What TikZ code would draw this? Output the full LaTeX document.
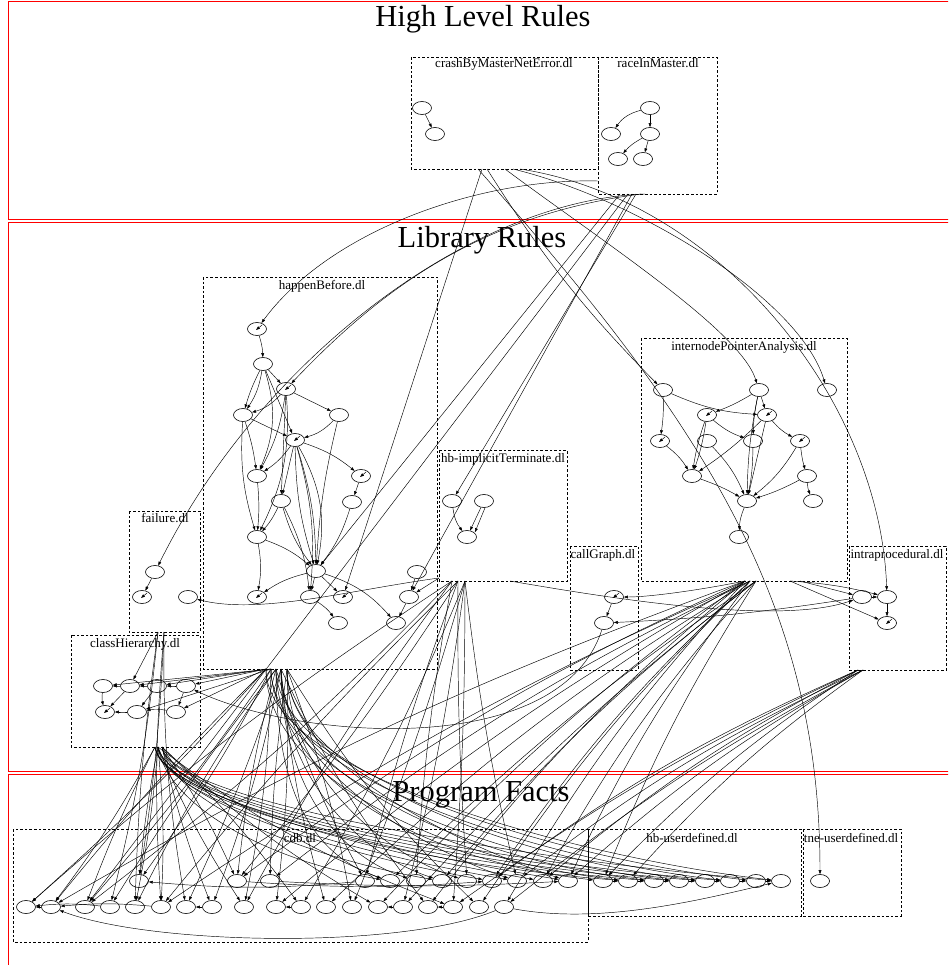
\documentclass[tikz,border=0pt]{standalone}
\usepackage{fontspec}
\setmainfont{Liberation Serif}
\usetikzlibrary{arrows.meta,shapes.geometric}
\begin{document}
\begin{tikzpicture}[x=1pt,y=-1pt,
  st/.style={draw,ellipse,minimum width=19pt,minimum height=13pt,inner sep=0pt,line width=0.6pt},
  ed/.style={line width=0.45pt,-{Triangle[length=4pt,width=2.8pt]}},
  clus/.style={draw,dash pattern=on 2.6pt off 2pt,line width=0.7pt},
  sect/.style={draw=red,line width=0.8pt},
  clab/.style={anchor=base,inner sep=0pt,font=\fontsize{13}{13}\selectfont},
  ttl/.style={anchor=base,inner sep=0pt,font=\fontsize{30.5}{30.5}\selectfont},
  selfarrow/.style={line width=0.45pt,-{Triangle[length=4pt,width=2.8pt]}}]
\useasboundingbox (0,0) rectangle (948,965);
\clip (0,0) rectangle (948,965);

% ---------- sections ----------
\draw[sect] (8,1.5) rectangle (960,219);
\draw[sect] (8,222) rectangle (960,771);
\draw[sect] (8,774.5) rectangle (960,990);
\node[ttl] (tHigh) at (483,27) {High Level Rules};
\node[ttl] (tLib) at (482,248) {Library Rules};
\node[ttl] (tProg) at (481,801) {Program Facts};

% ---------- clusters ----------
\draw[clus] (411,57) rectangle (598,169);
\node[clab] (lCrash) at (504,68) {crashByMasterNetError.dl};
\draw[clus] (598,57) rectangle (717,194);
\node[clab] (lRace) at (658,68) {raceInMaster.dl};

\draw[clus] (203,277) rectangle (437,669);
\node[clab] (lHB) at (322,289) {happenBefore.dl};
\draw[clus] (129,511) rectangle (200,632);
\node[clab] (lFail) at (165,522) {failure.dl};
\draw[clus] (71,635) rectangle (200,747);
\node[clab] (lClass) at (135,647) {classHierarchy.dl};
\draw[clus] (439,450) rectangle (567,581);
\node[clab] (lImpl) at (503,462) {hb-implicitTerminate.dl};
\draw[clus] (570,546) rectangle (638,670);
\node[clab] (lCall) at (603,558) {callGraph.dl};
\draw[clus] (641,338) rectangle (847,581);
\node[clab] (lInter) at (744,350) {internodePointerAnalysis.dl};
\draw[clus] (849,546) rectangle (946,670);
\node[clab] (lIntra) at (897,558) {intraprocedural.dl};

\draw[clus] (13,829) rectangle (588,942);
\node[clab] (lCdb) at (300,842) {cdb.dl};
\draw[clus] (588,829) rectangle (801,916);
\node[clab] (lHbu) at (692,842) {hb-userdefined.dl};
\draw[clus] (803,829) rectangle (901,916);
\node[clab] (lTne) at (851,842) {tne-userdefined.dl};

% ---------- high level nodes ----------
\node[st] (cr1) at (422,108) {};
\node[st] (cr2) at (435,134) {};
\node[st] (ra1) at (650,108) {};
\node[st] (ra2) at (611,134) {};
\node[st] (ra3) at (650,134) {};
\node[st] (ra4) at (618,159) {};
\node[st] (ra5) at (643,159) {};

% ---------- happenBefore ----------
\node[st] (hb1) at (257,329) {};
\node[st] (hb2) at (263,364) {};
\node[st] (hb3) at (286,389) {};
\node[st] (hb4) at (243,415) {};
\node[st] (hb5) at (339,415) {};
\node[st] (hb6) at (295,440) {};
\node[st] (hb7) at (257,476) {};
\node[st] (hb8) at (361,476) {};
\node[st] (hb9) at (281,501) {};
\node[st] (hb10) at (352,502) {};
\node[st] (hb11) at (257,537) {};
\node[st] (hb12) at (316,571) {};
\node[st] (hb13) at (417,572) {};
\node[st] (hb14) at (257,597) {};
\node[st] (hb15) at (310,597) {};
\node[st] (hb16) at (343,597) {};
\node[st] (hb17) at (409,597) {};
\node[st] (hb18) at (338,623) {};
\node[st] (hb19) at (396,623) {};

% ---------- failure / classHierarchy ----------
\node[st] (f1) at (155,572) {};
\node[st] (f2) at (142,597) {};
\node[st] (f3) at (188,597) {};
\node[st] (c1) at (103,686) {};
\node[st] (c2) at (130,686) {};
\node[st] (c3) at (157,686) {};
\node[st] (c4) at (186,686) {};
\node[st] (c5) at (105,712) {};
\node[st] (c6) at (137,712) {};
\node[st] (c7) at (176,712) {};

% ---------- hb-implicitTerminate / callGraph / intraprocedural ----------
\node[st] (t1) at (452,501) {};
\node[st] (t2) at (484,501) {};
\node[st] (t3) at (467,537) {};
\node[st] (g1) at (614,597) {};
\node[st] (g2) at (604,623) {};
\node[st] (p1) at (862,597) {};
\node[st] (p2) at (887,597) {};
\node[st] (p3) at (887,623) {};

% ---------- internodePointerAnalysis ----------
\node[st] (i1) at (663,390) {};
\node[st] (i2) at (759,390) {};
\node[st] (i3) at (827,390) {};
\node[st] (i4) at (707,415) {};
\node[st] (i5) at (767,415) {};
\node[st] (i6) at (660,441) {};
\node[st] (i7) at (707,441) {};
\node[st] (i8) at (753,441) {};
\node[st] (i9) at (800,441) {};
\node[st] (i10) at (692,476) {};
\node[st] (i11) at (807,476) {};
\node[st] (i12) at (747,501) {};
\node[st] (i13) at (813,501) {};
\node[st] (i14) at (739,537) {};

% ---------- program facts ----------
\foreach \i/\x in {1/139,2/237,3/270,4/365,5/390,6/416,7/442,8/467,9/492,10/517,11/543,12/568}
  \node[st] (U\i) at (\x,881) {};
\foreach \i/\x in {1/603,2/628,3/654,4/679,5/705,6/730,7/756,8/781}
  \node[st] (H\i) at (\x,881) {};
\node[st] (T1) at (820,881) {};
\foreach \i/\x in {1/26,2/51,3/85,4/110,5/135,6/161,7/186,8/212,9/244,10/276,11/301,12/326,13/352,14/378,15/403,16/428,17/453,18/479,19/504}
  \node[st] (L\i) at (\x,907) {};

% ---------- cluster ports ----------
\coordinate (cA) at (478,169);
\coordinate (cA2) at (482,169);
\coordinate (cB) at (487,169);
\coordinate (cC) at (505,169);
\coordinate (cD) at (513,169);
\coordinate (cE) at (520,169);
\coordinate (rL) at (598,181);
\coordinate (rA) at (645,194);
\coordinate (rB) at (641,194);
\coordinate (rC) at (636,194);
\coordinate (rD) at (632,194);
\coordinate (rE) at (628,194);
\coordinate (rF) at (620,194);
\coordinate (hbB1) at (266,669);
\coordinate (hbB2) at (271,669);
\coordinate (hbB3) at (276,669);
\coordinate (hbB4) at (281,669);
\coordinate (hbB5) at (287,669);
\coordinate (chB1) at (155,747);
\coordinate (chB2) at (158,747);
\coordinate (chB3) at (162,747);
\coordinate (fB1) at (158,632);
\coordinate (fB2) at (164,632);
\coordinate (itB1) at (452,581);
\coordinate (itB2) at (458,581);
\coordinate (itB3) at (465,581);
\coordinate (itR) at (510,581);
\coordinate (itL) at (439,578);
\coordinate (ipB1) at (745,581);
\coordinate (ipB2) at (750,581);
\coordinate (ipB3) at (756,581);
\coordinate (ipB4) at (790,581);
\coordinate (ipB5) at (800,581);
\coordinate (prB1) at (858,670);
\coordinate (prB2) at (863,670);

% ---------- edges inside clusters ----------
\draw[ed] (cr1) -- (cr2);
\draw[ed] (ra1) to[bend right=20] (ra2);
\draw[ed] (ra1) -- (ra3);
\draw[ed] (ra3) to[bend right=10] (ra4);
\draw[ed] (ra3) -- (ra5);

\foreach \a/\b/\c in {hb1/hb2/8, hb2/hb3/0, hb2/hb4/12, hb2/hb4/-5, hb2/hb7/20, hb2/hb6/0,
  hb3/hb4/15, hb3/hb5/0, hb3/hb7/10, hb3/hb9/0, hb3/hb11/15,
  hb4/hb6/0, hb4/hb7/5, hb4/hb11/-10, hb5/hb6/15, hb5/hb12/-5,
  hb6/hb7/10, hb6/hb8/10, hb6/hb9/0, hb6/hb12/8, hb6/hb12/-8, hb6/hb12/20, hb6/hb15/10,
  hb7/hb11/5, hb8/hb10/0, hb9/hb11/8, hb9/hb12/-10, hb9/hb15/10, hb10/hb12/10, hb11/hb12/10,
  hb11/hb14/10, hb12/hb14/-10, hb12/hb15/0, hb12/hb16/0, hb12/hb19/15, hb13/hb17/0,
  hb15/hb18/10, hb17/hb19/0}
  \draw[ed] (\a) to[bend left=\c] (\b);

\foreach \a/\b/\c in {i1/i5/-10, i1/i6/5, i2/i4/5, i2/i5/0, i2/i8/-5, i2/i12/-5, i4/i8/-10,
  i4/i10/5, i4/i10/-5, i5/i9/-10, i5/i10/5, i5/i12/0, i6/i10/10, i7/i12/10, i8/i12/5,
  i9/i11/-5, i9/i12/10, i10/i12/5, i11/i12/5, i11/i13/-10, i12/i14/-10}
  \draw[ed] (\a) to[bend left=\c] (\b);

\draw[ed] (f1) -- (f2);
\draw[ed] (t1) to[bend right=15] (t3);
\draw[ed] (t2) -- (t3);
\draw[ed] ([xshift=1pt]t2.south) -- ([xshift=1pt]t3.north east);
\draw[ed] (g1) -- (g2);
\draw[ed] (p1) -- (p2);
\draw[ed] (p2) -- (p3);

\foreach \a/\b/\c in {c2/c1/0, c3/c2/0, c4/c3/0, c1/c5/-10, c2/c5/0, c6/c5/0, c7/c6/-10, c3/c6/0, c4/c7/0}
  \draw[ed] (\a) to[bend left=\c] (\b);

% nodes whose incoming arrow ends inside them
\foreach \n in {hb1,hb3,hb6,hb8,hb14,hb16,f2,c5,g1,p3,i4,i5,i6,i9}
  \draw[selfarrow] (\n) ++(5,-4) -- ++(-6,5);

% ---------- edges from the high level rules ----------
\draw[ed] (cA) .. controls (700,420) and (820,600) .. (T1);
\draw[ed] (cB) to[bend right=6] (i1);
\draw[ed] (cC) .. controls (600,240) and (740,330) .. (i2);
\draw[ed] (cD) .. controls (640,200) and (800,300) .. (i3);
\draw[ed] (cE) .. controls (720,200) and (880,400) .. (p2);
\draw[ed] (cA2) -- (hb16);
\draw[ed] (rL) .. controls (480,178) and (330,230) .. (hb1);
\draw[ed] (rA) .. controls (470,200) and (260,360) .. (f1);
\draw[ed] (rB) .. controls (480,215) and (380,290) .. (hb3);
\draw[ed] (rC) -- (t1);
\draw[ed] (rD) -- (hb17);
\draw[ed] (rE) -- (L3);
\draw[ed] (rF) -- (hb12);

% ---------- edges between library clusters ----------
\draw[ed] (itL) .. controls (350,590) and (260,615) .. (f3);
\draw[ed] (itL) -- (hb17);
\draw[ed] (ipB1) .. controls (700,590) and (650,597) .. (g1);
\draw[ed] (itR) .. controls (620,600) and (780,625) .. (p1);
\draw[ed] (p1) to[bend left=3] (g2);
\draw[ed] (ipB5) -- (p1);
\draw[ed] (ipB4) to[bend left=5] (p2);
\draw[ed] (ipB4) -- (p3);
\draw[ed] (g2) .. controls (560,760) and (300,740) .. (c4);

% ---------- edges into the program facts ----------
\foreach \s/\t in {hbB1/c4, hbB1/c3, hbB2/c2, hbB2/c1, hbB1/c7, hbB2/c6}
  \draw[ed] (\s) -- (\t);
\foreach \s/\t/\b in {hbB1/L1/3, hbB2/L3/3, hbB3/L4/-3, hbB2/U1/4, hbB3/L5/-4, hbB4/L7/3,
  hbB3/U2/-4, hbB4/L8/4, hbB5/U3/-3, hbB5/L10/4, hbB4/L12/-5, hbB5/L13/5, hbB3/U4/-6,
  hbB4/L16/-6, hbB5/L18/-7, hbB1/L2/-3, hbB2/L9/5}
  \draw[ed] (\s) to[bend left=\b] (\t);
\foreach \s/\t in {hbB4/U6, hbB5/U8, hbB4/U10, hbB5/U12, hbB3/U5, hbB4/U7}
  \draw[ed] (\s) .. controls +(0,100) and +(-90,-30) .. (\t);
\foreach \s/\t in {hbB3/H1, hbB4/H3, hbB5/H5, hbB3/H7, hbB1/H2, hbB2/H4, hbB2/H6, hbB1/H8}
  \draw[ed] (\s) .. controls +(0,110) and +(-180,-20) .. (\t);

\foreach \s/\t/\b in {chB1/L2/4, chB1/L3/-3, chB2/L5/3, chB2/U1/-3, chB2/L6/4, chB3/L8/-4,
  chB3/U2/5, chB2/L9/-5, chB3/L11/5, chB3/L14/-6, chB2/L17/-8}
  \draw[ed] (\s) to[bend left=\b] (\t);
\foreach \s/\t in {chB2/U5, chB3/U7, chB2/U9, chB3/U11, chB1/U10, chB1/U12}
  \draw[ed] (\s) .. controls +(10,60) and +(-120,-20) .. (\t);
\foreach \s/\t in {chB1/H2, chB2/H4, chB3/H6, chB3/H8, chB1/H3, chB2/H5}
  \draw[ed] (\s) .. controls +(10,60) and +(-200,-15) .. (\t);

\foreach \s/\t/\b in {fB1/L4/4, fB1/L5/-3, fB2/U1/3, fB2/L6/-4, fB1/c2/0, fB2/L7/-5}
  \draw[ed] (\s) to[bend left=\b] (\t);

\foreach \s/\t/\b in {itB1/L1/-4, itB1/L3/4, itB2/L6/-3, itB2/U2/3, itB1/L9/-4, itB3/L11/4,
  itB2/U4/-3, itB3/L13/3, itB1/U6/-3, itB3/L15/3, itB2/U8/-2, itB3/L17/2, itB3/U10/-3}
  \draw[ed] (\s) to[bend left=\b] (\t);

\foreach \s/\t/\b in {ipB1/L2/-5, ipB1/U2/-6, ipB2/L6/-5, ipB2/U3/-6, ipB1/L10/-5,
  ipB3/U5/-5, ipB2/L12/-6, ipB3/U7/-6, ipB1/L14/-5, ipB2/U9/-6, ipB3/L15/-5, ipB3/U11/-6,
  ipB1/L16/-6, ipB2/L18/-6, ipB3/H1/-5, ipB1/L19/-6, ipB2/U12/-6}
  \draw[ed] (\s) to[bend left=\b] (\t);

\foreach \s/\t/\b in {prB1/U9/-6, prB2/U10/-6, prB1/U11/-6, prB2/U12/-6, prB1/L17/-5,
  prB2/L19/-5, prB1/H1/-6, prB2/H2/-6}
  \draw[ed] (\s) to[bend left=\b] (\t);

% ---------- edges inside the program facts ----------
\foreach \a/\b/\c in {L2/L1/0, L4/L1/-6, L6/L2/-5, L8/L7/0, L11/L10/0, L15/L14/0, L17/L16/0,
  U4/U1/5, U2/U9/-4, U3/U12/-3, H1/H2/0, H2/H3/0, H3/H4/0, H4/H5/0, H5/H6/0, H6/H7/0, H7/H8/0}
  \draw[ed] (\a) to[bend left=\c] (\b);
\draw[ed] (L19) .. controls (400,950) and (150,945) .. (L2);
\draw[ed] (L19) .. controls (600,925) and (700,900) .. (H8);
\end{tikzpicture}
\end{document}
